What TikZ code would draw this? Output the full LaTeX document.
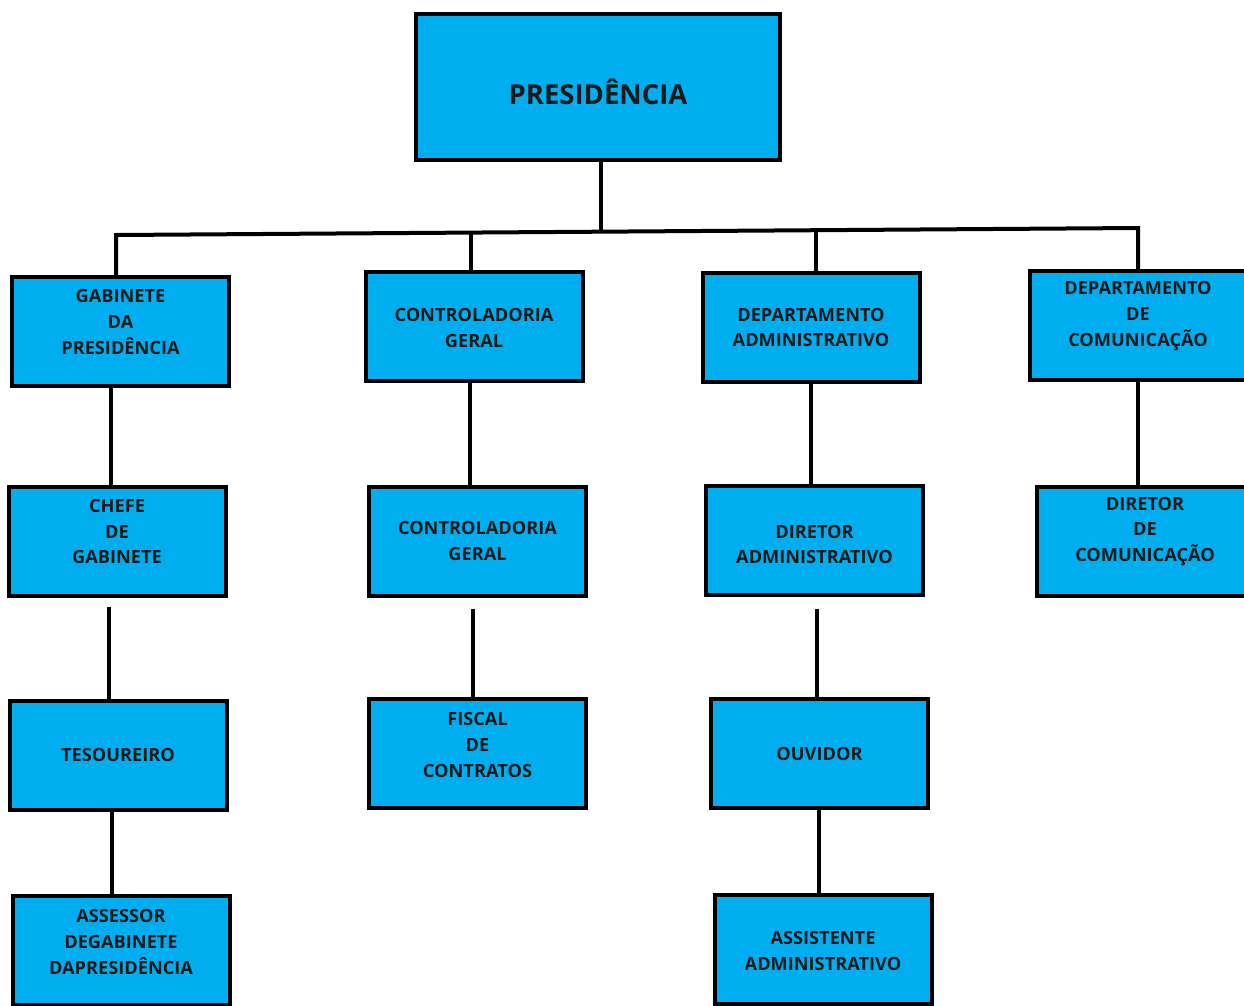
\documentclass[tikz,border=0pt]{standalone}
\usepackage{fontspec}
\setmainfont{Open Sans}
\definecolor{boxblue}{HTML}{00AEEF}
\definecolor{txtc}{HTML}{1A1A1A}
\begin{document}
\begin{tikzpicture}[x=1pt,y=-1pt,
  box/.style={draw=black, fill=boxblue, line width=4pt, rectangle, inner sep=0pt,
    minimum width=217pt, minimum height=109pt},
  txt/.style={align=center, text=txtc, font=\bfseries\fontsize{18.2}{25.8}\selectfont, inner sep=0pt},
  conn/.style={line width=4pt, draw=black}]
\useasboundingbox (0,0) rectangle (1244,1005);
\clip (0,0) rectangle (1244,1005);
% top
\node[box, minimum width=364pt, minimum height=146pt,
  label={[txt, font=\bfseries\fontsize{27.5}{30}\selectfont, yshift=-5pt]center:PRESIDÊNCIA}] (pres) at (598,87) {};
% row 1
\node[box, label={[txt,yshift=9.5pt]center:GABINETE\\DA\\PRESIDÊNCIA}] (gab) at (120.5,331.5) {};
\node[box, label={[txt,yshift=-1.5pt]center:CONTROLADORIA\\GERAL}] (ctrl) at (474,326.5) {};
\node[box, label={[txt]center:DEPARTAMENTO\\ADMINISTRATIVO}] (dadm) at (811,327.5) {};
\node[box, label={[txt,yshift=9.5pt]center:DEPARTAMENTO\\DE\\COMUNICAÇÃO}] (dcom) at (1138,325.5) {};
% row 2
\node[box, label={[txt,yshift=9.5pt]center:CHEFE\\DE\\GABINETE}] (chefe) at (117,541) {};
\node[box, label={[txt]center:CONTROLADORIA\\GERAL}] (ctrl2) at (477.5,541) {};
\node[box, label={[txt,yshift=-4pt]center:DIRETOR\\ADMINISTRATIVO}] (diradm) at (814.5,540.5) {};
\node[box, label={[txt,yshift=9.5pt]center:DIRETOR\\DE\\COMUNICAÇÃO}] (dircom) at (1145,541) {};
% row 3
\node[box, label={[txt]center:TESOUREIRO}] (tes) at (118,755) {};
\node[box, label={[txt,yshift=8.5pt]center:FISCAL\\DE\\CONTRATOS}] (fisc) at (477.5,753.5) {};
\node[box, label={[txt]center:OUVIDOR}] (ouv) at (819.5,753.5) {};
% row 4
\node[box, label={[txt,yshift=8.5pt]center:ASSESSOR\\DEGABINETE\\DAPRESIDÊNCIA}] (assr) at (121,950.5) {};
\node[box, label={[txt,yshift=-1.5pt]center:ASSISTENTE\\ADMINISTRATIVO}] (asst) at (823,949.5) {};
% bus
\coordinate (busL) at (116,235);
\coordinate (busM) at (601,231);
\coordinate (busC) at (471,232.2);
\coordinate (busA) at (816,229.3);
\coordinate (busR) at (1138,228);
\draw[conn] (pres.south -| busM) -- (busM);
\draw[conn, line join=miter] (gab.north -| busL) -- (busL) -- (busR) -- (dcom.north -| busR);
\draw[conn] (busC) -- (ctrl.north -| busC);
\draw[conn] (busA) -- (dadm.north -| busA);
% row1 -> row2
\coordinate (l1) at (111,388);
\coordinate (l2) at (470,383);
\coordinate (l3) at (811,384);
\coordinate (l4) at (1138,382);
\draw[conn] (l1) -- (chefe.north -| l1);
\draw[conn] (l2) -- (ctrl2.north -| l2);
\draw[conn] (l3) -- (diradm.north -| l3);
\draw[conn] (l4) -- (dircom.north -| l4);
% row2 -> row3 (gapped)
\coordinate (m1) at (109,607);
\coordinate (m2) at (473,609);
\coordinate (m3) at (817,609);
\draw[conn] (m1) -- (tes.north -| m1);
\draw[conn] (m2) -- (fisc.north -| m2);
\draw[conn] (m3) -- (ouv.north -| m3);
% row3 -> row4
\coordinate (n1) at (112,812);
\coordinate (n2) at (819,810);
\draw[conn] (n1) -- (assr.north -| n1);
\draw[conn] (n2) -- (asst.north -| n2);
\end{tikzpicture}
\end{document}
